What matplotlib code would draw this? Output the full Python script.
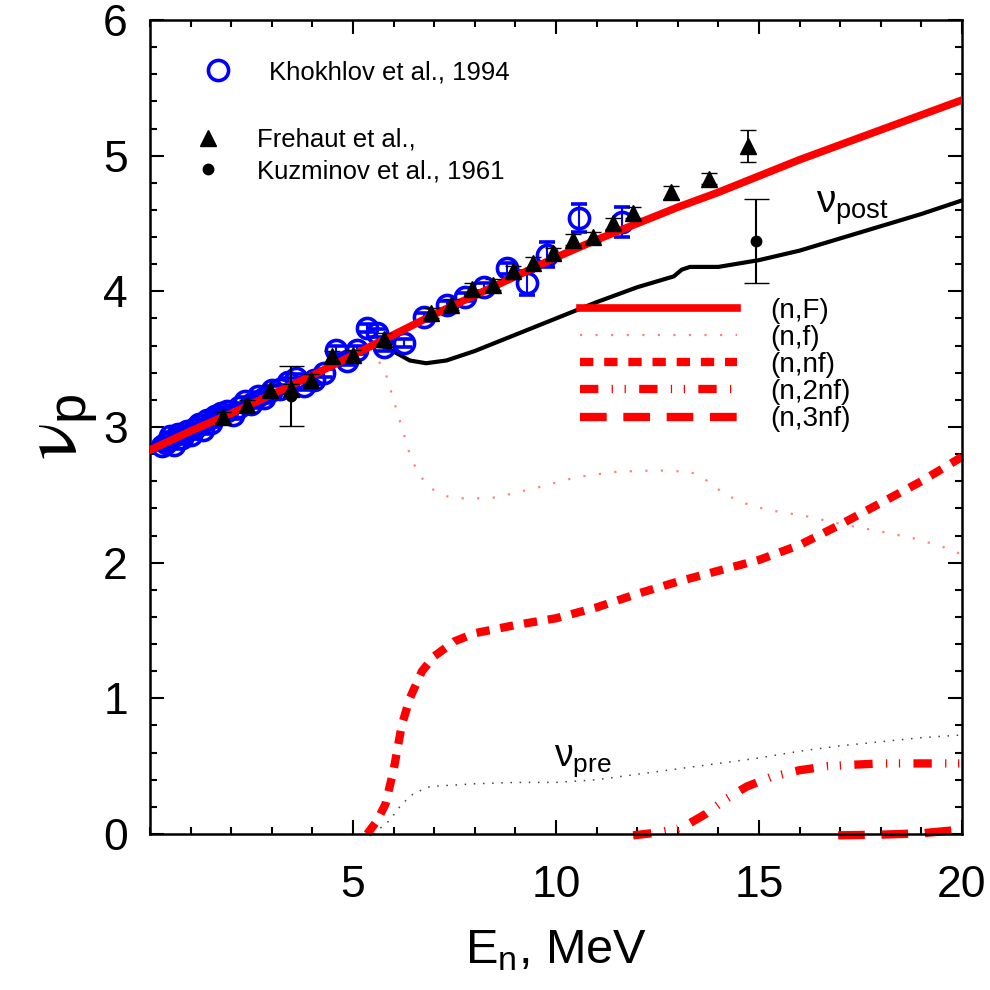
import numpy as np
import matplotlib
matplotlib.use('Agg')
import matplotlib.pyplot as plt
from matplotlib.lines import Line2D

plt.rcParams['font.family'] = ['Liberation Sans', 'DejaVu Sans']
plt.rcParams['mathtext.fontset'] = 'custom'
plt.rcParams['mathtext.rm'] = 'Liberation Sans'
plt.rcParams['mathtext.it'] = 'Liberation Sans'

# calculated curves
E_nF = [0, 1, 2, 3, 4, 5, 6, 7, 8, 9, 10, 11, 12, 13, 14, 15, 16, 17, 18, 19, 20]
nu_nF = [2.83, 2.97, 3.10, 3.24, 3.38, 3.53, 3.68, 3.83, 3.97, 4.11, 4.25,
         4.38, 4.50, 4.62, 4.73, 4.85, 4.97, 5.08, 5.19, 5.30, 5.41]

E_post = [0, 1, 2, 3, 4, 5, 5.5, 5.8, 6.1, 6.4, 6.8, 7.3, 8, 9, 10, 11, 12,
          12.9, 13.1, 13.3, 14.0, 15, 16, 17, 18, 19, 20]
nu_post = [2.83, 2.97, 3.10, 3.24, 3.38, 3.53, 3.60, 3.59, 3.54, 3.49, 3.47,
           3.49, 3.56, 3.68, 3.80, 3.92, 4.03, 4.11, 4.16, 4.18, 4.18, 4.23,
           4.30, 4.39, 4.48, 4.57, 4.67]

E_f = [5.45, 5.8, 6.1, 6.4, 6.6, 6.9, 7.3, 7.8, 8.5, 9.5, 10.5, 11.5, 12.5,
       13.3, 13.6, 14.0, 14.5, 15.2, 16.2, 17.1, 18, 18.8, 19.5, 20]
nu_f = [3.58, 3.40, 3.10, 2.80, 2.66, 2.55, 2.49, 2.47, 2.48, 2.55, 2.63,
        2.67, 2.68, 2.67, 2.63, 2.54, 2.45, 2.39, 2.34, 2.28, 2.23, 2.18,
        2.12, 2.06]

E_nf = [5.35, 5.6, 5.8, 6.0, 6.2, 6.4, 6.7, 7.0, 7.5, 8, 9, 10, 11, 12, 13,
        14, 15, 16, 17, 18, 19, 20]
nu_nf = [0.0, 0.1, 0.22, 0.47, 0.80, 1.0, 1.2, 1.31, 1.42, 1.48, 1.54, 1.59,
         1.67, 1.77, 1.86, 1.94, 2.02, 2.13, 2.28, 2.44, 2.60, 2.78]

E_2nf = [11.9, 12.5, 13.0, 13.3, 13.7, 14.2, 14.7, 15.3, 16.0, 16.7, 17.3,
         18, 19, 20]
nu_2nf = [-0.01, 0.01, 0.04, 0.08, 0.15, 0.26, 0.35, 0.42, 0.47, 0.50, 0.51,
          0.52, 0.52, 0.52]

E_3nf = [16.95, 18, 19, 19.9]
nu_3nf = [-0.01, -0.005, 0.005, 0.03]

E_pre = [5.5, 5.9, 6.2, 6.5, 6.9, 8, 9, 10, 11, 12, 13, 14, 15, 16, 17, 18,
         19, 20]
nu_pre = [0.0, 0.10, 0.22, 0.30, 0.35, 0.37, 0.38, 0.38, 0.40, 0.44, 0.48,
          0.52, 0.56, 0.61, 0.65, 0.68, 0.71, 0.73]

# experimental data
kh_E = [0.3, 0.4, 0.5, 0.6, 0.7, 0.8, 0.9, 1.0, 1.1, 1.2, 1.3, 1.4, 1.5, 1.6,
        1.75, 1.9, 2.05, 2.2, 2.35, 2.5, 2.65, 2.8, 3.0, 3.2, 3.4, 3.6, 3.8,
        4.05, 4.28, 4.58, 4.86, 5.11, 5.35, 5.6, 5.76, 6.25, 6.74, 7.32, 7.77,
        8.22, 8.80, 9.29, 9.79, 10.56, 11.63]
kh_nu = [2.86, 2.88, 2.93, 2.87, 2.95, 2.92, 2.97, 2.94, 2.99, 3.02, 2.98,
         3.05, 3.03, 3.08, 3.10, 3.12, 3.09, 3.15, 3.19, 3.17, 3.23, 3.21,
         3.27, 3.28, 3.33, 3.36, 3.30, 3.35, 3.40, 3.57, 3.49, 3.57, 3.73,
         3.69, 3.59, 3.62, 3.81, 3.90, 3.96, 4.03, 4.17, 4.06, 4.27, 4.54, 4.51]
kh_err = [0.03] * 40 + [0.04, 0.09, 0.09, 0.10, 0.11]

fr_E = [1.79, 2.39, 2.95, 3.47, 3.96, 4.49, 4.99, 5.76, 6.91, 7.42, 7.94,
        8.45, 8.95, 9.44, 9.93, 10.42, 10.91, 11.41, 11.9, 12.83, 13.78, 14.74]
fr_nu = [3.07, 3.16, 3.27, 3.28, 3.35, 3.52, 3.53, 3.65, 3.84, 3.90, 4.02,
         4.05, 4.15, 4.21, 4.28, 4.38, 4.40, 4.50, 4.58, 4.73, 4.83, 5.07]
fr_err = [0.04] * 19 + [0.05, 0.04, 0.12]

ku_E = [3.47, 14.92]
ku_nu = [3.23, 4.37]
ku_err = [0.22, 0.31]

fig = plt.figure(figsize=(9.9, 9.9), dpi=100)
ax = fig.add_axes([0.1515, 0.1576, 0.8202, 0.8222])

red = '#ff0000'
pink = '#ff8080'
ax.plot(E_post, nu_post, color='black', lw=3, zorder=2)
ax.plot(E_f, nu_f, color=pink, lw=1.6, ls=(0, (1, 6)), zorder=2)
ax.plot(E_pre, nu_pre, color='#444444', lw=1.1, ls=(0, (1, 5)), zorder=2)
ax.plot(E_nf, nu_nf, color=red, lw=6, ls=(0, (1.6, 1.3)), zorder=2, clip_on=False)
ax.plot(E_2nf, nu_2nf, color=red, lw=6, ls=(0, (2.2, 1.6, 0.15, 1.4, 0.15, 1.6)),
        zorder=2, clip_on=False)
ax.plot(E_3nf, nu_3nf, color=red, lw=6, ls=(0, (3.2, 2.0)), zorder=2, clip_on=False)

ax.errorbar(kh_E, kh_nu, yerr=kh_err, fmt='o', ms=14.5, mfc='none', mec='#0000ff',
            mew=2.6, ecolor='#0000ff', elinewidth=1.5, capsize=6, zorder=3)
ax.plot(E_nF, nu_nF, color=red, lw=5.5, zorder=4)
ax.errorbar(fr_E, fr_nu, yerr=fr_err, fmt='^', ms=12, color='black',
            elinewidth=1.3, capsize=6, zorder=5)
ax.errorbar(ku_E, ku_nu, yerr=ku_err, fmt='o', ms=7.5, color='black',
            elinewidth=1.5, capsize=9, zorder=5)

ax.text(16.4, 4.58, r'$\nu_{post}$', fontsize=28, ha='left', va='baseline')
ax.text(9.95, 0.5, r'$\nu_{pre}$', fontsize=27, ha='left', va='baseline')

ax.set_xlim(0, 20)
ax.set_ylim(0, 6)
ax.set_xticks([5, 10, 15, 20])
ax.set_xticks(np.arange(0, 21, 1), minor=True)
ax.set_yticks([0, 1, 2, 3, 4, 5, 6])
ax.set_yticks(np.arange(0, 6.01, 0.2), minor=True)
ax.tick_params(which='both', direction='in', top=True, right=True, width=1.5)
ax.tick_params(which='major', length=10, labelsize=32)
ax.tick_params(which='minor', length=5)
ax.tick_params(axis='x', which='major', pad=22)
ax.tick_params(axis='y', which='major', pad=16)
for s in ax.spines.values():
    s.set_linewidth(1.8)

ax.set_xlabel('E$_n$, MeV', fontsize=35, labelpad=16)
ax.set_ylabel(r'$\mathrm{\nu}_{\mathregular{p}}$', fontsize=56, labelpad=2,
              math_fontfamily='stix')

# legends
h_kh = Line2D([], [], ls='none', marker='o', ms=14.5, mfc='none', mec='#0000ff', mew=2.6)
h_fr = Line2D([], [], ls='none', marker='^', ms=12, color='black')
h_ku = Line2D([], [], ls='none', marker='o', ms=7.5, color='black')

leg1 = ax.legend([h_kh], ['Khokhlov et al., 1994'], loc='center left',
                 bbox_to_anchor=(0.068, 0.936), frameon=False, fontsize=18.5,
                 handlelength=1, handletextpad=1.5, borderpad=0, borderaxespad=0)
ax.add_artist(leg1)
leg2 = ax.legend([h_fr, h_ku], ['Frehaut et al.,', 'Kuzminov et al., 1961'],
                 loc='center left', bbox_to_anchor=(0.056, 0.8335), frameon=False,
                 fontsize=18.5, handlelength=1, handletextpad=1.38,
                 labelspacing=0.29, borderpad=0, borderaxespad=0)
ax.add_artist(leg2)

lines = [Line2D([], [], color=red, lw=5.5),
         Line2D([], [], color=pink, lw=1.6, ls=(0, (1, 6))),
         Line2D([], [], color=red, lw=6, ls=(0, (1.6, 1.3))),
         Line2D([], [], color=red, lw=6, ls=(0, (2.2, 1.6, 0.15, 1.4, 0.15, 1.6))),
         Line2D([], [], color=red, lw=6, ls=(0, (3.2, 2.0)))]
ax.legend(lines, ['(n,F)', '(n,f)', '(n,nf)', '(n,2nf)', '(n,3nf)'],
          loc='center left', bbox_to_anchor=(0.5296, 0.5761), frameon=False,
          fontsize=20, handlelength=5.65, handletextpad=1.19, labelspacing=0.04,
          borderpad=0, borderaxespad=0)

fig.savefig('out.png', dpi=100)
